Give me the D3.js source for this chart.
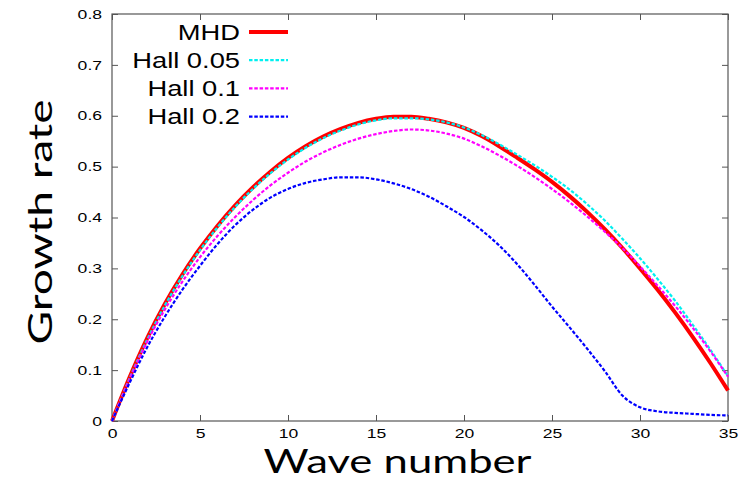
<!DOCTYPE html>
<html>
<head>
<meta charset="utf-8">
<script src="https://cdn.jsdelivr.net/npm/d3@7"></script>
<style>
  body { margin: 0; background: #fff; }
  svg { display: block; }
</style>
</head>
<body>
<svg id="chart" width="754" height="482"></svg>
<script>
// wave number k and growth rates
const waveNumber = [0, 1, 2, 3, 4, 5, 6, 7, 8, 9, 10, 11, 12, 13, 14, 15, 16, 17,
  18, 19, 20, 21, 22, 23, 24, 25, 26, 27, 28, 29, 30, 31, 32, 33, 34, 35]

const mhd = [0, 0.086, 0.163, 0.23, 0.288, 0.339, 0.384, 0.424, 0.459, 0.49, 0.517, 0.54,
  0.559, 0.574, 0.586, 0.594, 0.598, 0.598, 0.594, 0.587, 0.576, 0.56, 0.54, 0.518, 0.495, 0.47,
  0.442, 0.411, 0.377, 0.34, 0.3, 0.258, 0.213, 0.165, 0.114, 0.06]

const hall005 = [0, 0.084, 0.16, 0.227, 0.285, 0.336, 0.381, 0.421, 0.456, 0.487, 0.514, 0.537,
  0.556, 0.571, 0.583, 0.591, 0.595, 0.595, 0.593, 0.587, 0.577, 0.562, 0.544, 0.524, 0.503, 0.48,
  0.455, 0.426, 0.394, 0.358, 0.32, 0.279, 0.236, 0.189, 0.14, 0.088]

const hall01 = [0, 0.082, 0.156, 0.219, 0.274, 0.322, 0.364, 0.401, 0.434, 0.463, 0.488, 0.51,
  0.528, 0.543, 0.555, 0.564, 0.57, 0.573, 0.571, 0.565, 0.555, 0.54, 0.522, 0.502, 0.48, 0.456,
  0.43, 0.402, 0.372, 0.34, 0.304, 0.266, 0.226, 0.183, 0.137, 0.087]

const hall02 = [0, 0.075, 0.145, 0.205, 0.258, 0.305, 0.348, 0.385, 0.415, 0.439, 0.456, 0.468,
  0.475, 0.479, 0.479, 0.475, 0.467, 0.456, 0.441, 0.422, 0.401, 0.375, 0.345, 0.309, 0.268, 0.225,
  0.184, 0.142, 0.098, 0.05, 0.027, 0.019, 0.016, 0.014, 0.012, 0.011]

const seriesNames = ['MHD', 'Hall 0.05', 'Hall 0.1', 'Hall 0.2']
const xTicks = [0, 5, 10, 15, 20, 25, 30, 35]
const yTicks = [0, 0.1, 0.2, 0.3, 0.4, 0.5, 0.6, 0.7, 0.8]

const styles = [
  { color: '#ff0000', width: 4, dash: null },
  { color: '#00f0f0', width: 2.2, dash: '3.5,1.8' },
  { color: '#ff00ff', width: 2.2, dash: '3.5,1.8' },
  { color: '#0000ff', width: 2.2, dash: '3.5,1.8' }
]

const series = [mhd, hall005, hall01, hall02].map((values, i) => ({
  name: seriesNames[i],
  values,
  style: styles[i]
}))

const width = 754
const height = 482
const margin = { top: 14, right: 26, bottom: 61, left: 112 }
const tickFont = '"Liberation Sans", Arial, sans-serif'
const titleFont = 'Lato, "Open Sans", sans-serif'
const frameColor = '#555'

const x = d3.scaleLinear()
  .domain([0, 35])
  .range([margin.left, width - margin.right])

const y = d3.scaleLinear()
  .domain([0, 0.8])
  .range([height - margin.bottom, margin.top])

// the original text is stretched sideways, so widen glyphs by a factor
const stretch = k => sel => sel.each(function () {
  const len = this.getComputedTextLength()
  d3.select(this)
    .attr('textLength', len * k)
    .attr('lengthAdjust', 'spacingAndGlyphs')
})

const svg = d3.select('#chart')

const styleAxis = g => g
  .call(g => g.select('.domain').remove())
  .call(g => g.selectAll('.tick line').attr('stroke', frameColor))
  .call(g => g.selectAll('.tick text')
    .attr('fill', '#000')
    .style('font-family', tickFont)
    .style('font-size', '13px'))

// bottom + top (mirror) ticks
svg.append('g')
  .attr('transform', `translate(0,${height - margin.bottom})`)
  .call(d3.axisBottom(x).tickValues(xTicks).tickSizeInner(-6).tickSizeOuter(0).tickPadding(8))
  .call(styleAxis)
  .call(g => g.selectAll('.tick text').call(stretch(1.35)))

svg.append('g')
  .attr('transform', `translate(0,${margin.top})`)
  .call(d3.axisTop(x).tickValues(xTicks).tickSizeInner(-6).tickSizeOuter(0).tickFormat(''))
  .call(styleAxis)

// left + right (mirror) ticks
svg.append('g')
  .attr('transform', `translate(${margin.left},0)`)
  .call(d3.axisLeft(y).tickValues(yTicks).tickSizeInner(-6).tickSizeOuter(0).tickPadding(10)
    .tickFormat(d => String(d)))
  .call(styleAxis)
  .call(g => g.selectAll('.tick text').call(stretch(1.35)))

svg.append('g')
  .attr('transform', `translate(${width - margin.right},0)`)
  .call(d3.axisRight(y).tickValues(yTicks).tickSizeInner(-6).tickSizeOuter(0).tickFormat(''))
  .call(styleAxis)

// frame
svg.append('rect')
  .attr('x', margin.left)
  .attr('y', margin.top)
  .attr('width', width - margin.left - margin.right)
  .attr('height', height - margin.top - margin.bottom)
  .attr('fill', 'none')
  .attr('stroke', frameColor)
  .attr('stroke-width', 1.2)

// curves
const line = d3.line()
  .curve(d3.curveMonotoneX)
  .x((d, i) => x(waveNumber[i]))
  .y(d => y(d))

svg.append('g')
  .selectAll('path')
  .data(series)
  .join('path')
  .attr('fill', 'none')
  .attr('stroke', d => d.style.color)
  .attr('stroke-width', d => d.style.width)
  .attr('stroke-dasharray', d => d.style.dash)
  .attr('stroke-linejoin', 'round')
  .attr('d', d => line(d.values))

// legend (gnuplot style, text right-aligned before sample line)
const legend = svg.append('g')
  .attr('transform', 'translate(240,32)')

const rows = legend.selectAll('g')
  .data(series)
  .join('g')
  .attr('transform', (d, i) => `translate(0,${i * 28.2})`)

rows.append('text')
  .attr('text-anchor', 'end')
  .attr('dy', '0.35em')
  .style('font-family', tickFont)
  .style('font-size', '21.5px')
  .text(d => d.name)
  .call(stretch(1.27))

rows.append('line')
  .attr('x1', 9)
  .attr('x2', 48)
  .attr('stroke', d => d.style.color)
  .attr('stroke-width', d => d.style.width)
  .attr('stroke-dasharray', d => d.style.dash)

// axis titles
svg.append('text')
  .attr('x', 397.5)
  .attr('y', 473)
  .attr('text-anchor', 'middle')
  .attr('textLength', 268)
  .attr('lengthAdjust', 'spacingAndGlyphs')
  .style('font-family', titleFont)
  .style('font-size', '33px')
  .text('Wave number')

svg.append('text')
  .attr('transform', 'translate(52,222) rotate(-90)')
  .attr('text-anchor', 'middle')
  .attr('textLength', 245)
  .attr('lengthAdjust', 'spacingAndGlyphs')
  .style('font-family', titleFont)
  .style('font-size', '32px')
  .text('Growth rate')
</script>
</body>
</html>
